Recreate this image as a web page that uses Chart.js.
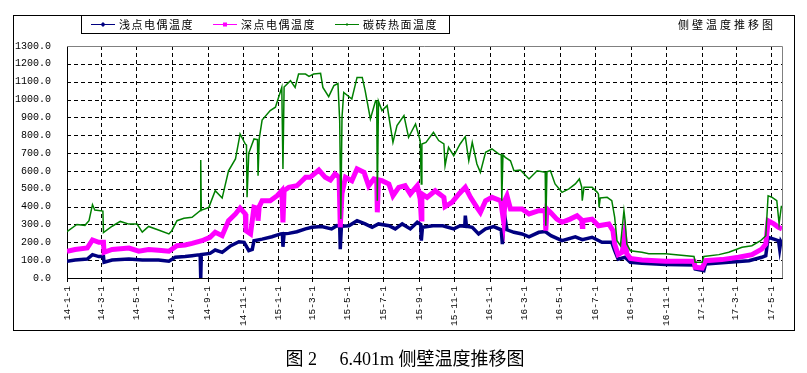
<!DOCTYPE html>
<html>
<head>
<meta charset="utf-8">
<script src="https://cdn.jsdelivr.net/npm/chart.js@4/dist/chart.umd.min.js"></script>
<style>
  html, body { margin: 0; padding: 0; background: #fff; }
  #wrap { position: absolute; left: 0; top: 0; width: 807px; height: 373px; }
  #caption { position: absolute; left: 0; top: 350px; width: 810px; text-align: center;
             font: 18px 'Liberation Serif', 'Noto Sans CJK SC', serif; line-height: 18px;
             white-space: pre; color: #000; }
</style>
</head>
<body>
<div id="wrap"><canvas id="chart"></canvas></div>
<div id="caption">图 2　 6.401m 侧壁温度推移图</div>
<script>
// 系列名称
const seriesNames = ['浅点电偶温度', '深点电偶温度', '碳砖热面温度'];
const chartTitle = '侧壁温度推移图';

// X轴刻度 (年-月-日)
const tickLabels = ['14-1-1', '14-3-1', '14-5-1', '14-7-1', '14-9-1', '14-11-1',
  '15-1-1', '15-3-1', '15-5-1', '15-7-1', '15-9-1', '15-11-1',
  '16-1-1', '16-3-1', '16-5-1', '16-7-1', '16-9-1', '16-11-1',
  '17-1-1', '17-3-1', '17-5-1'];

// 数据: 天数 (从 2014-1-1 起) 和温度
const shallowDays = [0, 14, 35, 44, 55, 63, 64, 78, 107, 130, 158, 176, 187, 204, 216, 230, 231, 232, 247, 256, 268, 283, 297, 306, 314, 320, 323, 337, 354, 369, 372, 373, 375, 383, 397, 412, 423, 440, 457, 466, 471, 472, 474, 487, 501, 515, 527, 538, 556, 567, 579, 593, 605, 611, 612, 614, 632, 649, 668, 679, 687, 688, 690, 700, 711, 723, 737, 750, 752, 754, 757, 760, 772, 786, 798, 815, 826, 836, 855, 878, 890, 907, 924, 941, 946, 952, 964, 973, 993, 1034, 1083, 1085, 1100, 1103, 1143, 1178, 1200, 1207, 1211, 1221, 1229, 1231, 1233, 1235];
const shallowTemps = [94, 101, 106, 131, 120, 120, 88, 101, 106, 101, 101, 94, 116, 120, 125, 131, 0, 131, 138, 157, 144, 181, 203, 200, 153, 160, 209, 218, 231, 247, 248, 175, 248, 250, 259, 275, 284, 288, 275, 293, 290, 162, 290, 293, 321, 303, 284, 303, 293, 275, 303, 275, 312, 300, 209, 284, 293, 293, 275, 293, 290, 349, 290, 284, 247, 275, 288, 270, 190, 270, 330, 270, 256, 247, 231, 256, 260, 237, 209, 231, 215, 228, 200, 200, 153, 106, 116, 88, 82, 75, 73, 50, 41, 78, 88, 97, 116, 125, 228, 218, 209, 162, 205, 194];

const deepDays = [0, 14, 35, 44, 55, 63, 64, 78, 107, 124, 141, 158, 176, 190, 204, 216, 233, 247, 256, 268, 279, 291, 299, 308, 309, 317, 323, 329, 330, 332, 337, 351, 363, 371, 373, 375, 383, 397, 406, 412, 420, 435, 446, 455, 463, 470, 472, 475, 481, 492, 501, 513, 521, 530, 535, 536, 538, 544, 556, 563, 573, 584, 593, 605, 610, 612, 613, 622, 636, 651, 653, 665, 677, 688, 697, 708, 714, 723, 734, 749, 754, 757, 760, 766, 786, 798, 815, 826, 827, 829, 835, 846, 855, 869, 881, 889, 890, 891, 907, 918, 936, 943, 946, 952, 959, 963, 967, 973, 993, 1034, 1083, 1085, 1097, 1103, 1131, 1160, 1183, 1200, 1207, 1211, 1221, 1229, 1235];
const deepTemps = [149, 160, 168, 213, 200, 200, 144, 160, 168, 150, 160, 155, 150, 181, 185, 194, 209, 228, 256, 237, 321, 359, 392, 359, 265, 247, 396, 390, 321, 400, 433, 433, 461, 489, 312, 490, 508, 517, 545, 564, 564, 605, 564, 549, 583, 564, 284, 474, 564, 545, 611, 592, 517, 555, 550, 368, 550, 545, 527, 461, 508, 517, 471, 517, 443, 330, 471, 452, 489, 452, 400, 424, 471, 508, 452, 396, 368, 433, 452, 433, 321, 440, 461, 387, 387, 359, 377, 377, 265, 387, 368, 330, 312, 330, 349, 325, 288, 321, 330, 293, 303, 265, 190, 131, 144, 237, 136, 110, 101, 94, 94, 60, 56, 97, 103, 116, 131, 162, 190, 321, 303, 284, 275];

const hotDays = [0, 17, 31, 38, 44, 48, 62, 63, 78, 92, 107, 121, 130, 141, 158, 176, 181, 190, 202, 216, 230, 231, 232, 245, 256, 268, 279, 291, 299, 308, 310, 311, 314, 323, 329, 330, 332, 337, 351, 360, 371, 373, 375, 386, 394, 400, 412, 418, 426, 438, 442, 452, 461, 468, 471, 473, 475, 478, 492, 501, 510, 515, 524, 533, 535, 536, 538, 544, 553, 563, 570, 582, 590, 602, 610, 612, 613, 620, 633, 642, 651, 653, 659, 668, 679, 688, 694, 700, 708, 714, 723, 734, 746, 750, 751, 753, 757, 766, 772, 783, 798, 812, 826, 827, 829, 835, 843, 855, 867, 878, 885, 889, 890, 893, 907, 916, 918, 919, 921, 933, 941, 946, 950, 956, 962, 964, 967, 973, 993, 1005, 1034, 1083, 1085, 1097, 1100, 1126, 1143, 1166, 1183, 1198, 1207, 1211, 1218, 1226, 1230, 1234];
const hotTemps = [260, 300, 295, 321, 411, 381, 375, 255, 290, 317, 302, 302, 257, 289, 269, 247, 265, 321, 335, 340, 377, 661, 380, 396, 489, 448, 601, 667, 807, 751, 745, 452, 700, 779, 775, 573, 780, 885, 938, 957, 1068, 611, 1070, 1106, 1068, 1143, 1143, 1130, 1143, 1147, 1068, 1016, 1078, 1090, 882, 330, 900, 1040, 1003, 1124, 1124, 1050, 891, 993, 990, 433, 990, 938, 966, 760, 854, 910, 788, 863, 770, 527, 751, 760, 816, 770, 751, 629, 732, 685, 751, 792, 657, 760, 639, 592, 704, 723, 694, 690, 433, 690, 676, 657, 601, 605, 555, 601, 592, 293, 595, 601, 527, 480, 499, 527, 555, 510, 433, 508, 508, 480, 470, 396, 448, 452, 433, 340, 209, 181, 377, 321, 190, 153, 144, 136, 136, 121, 88, 88, 121, 131, 144, 172, 181, 209, 237, 461, 452, 433, 303, 405];

const seriesColors = ['#000080', '#FF00FF', '#008000'];

// 日期标签 -> 天数
function labelToDay(label) {
  const [y, m, d] = label.split('-').map(Number);
  return Math.round((Date.UTC(2000 + y, m - 1, d) - Date.UTC(2014, 0, 1)) / 86400000);
}
const tickDays = tickLabels.map(labelToDay);

function toPoints(days, temps) {
  return days.map((d, i) => ({ x: d, y: temps[i] }));
}

// 虚线网格 (Excel 风格)
const gridPlugin = {
  id: 'dashGrid',
  beforeDatasetsDraw(chart) {
    const ctx = chart.ctx;
    const a = chart.chartArea;
    const xs = chart.scales.x;
    const ys = chart.scales.y;
    ctx.save();
    ctx.strokeStyle = '#000';
    ctx.lineWidth = 1;
    ctx.setLineDash([4, 3]);
    ys.ticks.forEach(t => {
      if (t.value <= ys.min || t.value >= ys.max) return;
      const y = Math.round(ys.getPixelForValue(t.value)) + 0.5;
      ctx.beginPath(); ctx.moveTo(a.left, y); ctx.lineTo(a.right, y); ctx.stroke();
    });
    xs.ticks.forEach(t => {
      if (t.value <= xs.min) return;
      const x = Math.round(xs.getPixelForValue(t.value)) + 0.5;
      ctx.beginPath(); ctx.moveTo(x, a.top); ctx.lineTo(x, a.bottom); ctx.stroke();
    });
    ctx.setLineDash([]);
    xs.ticks.forEach(t => {
      const x = Math.round(xs.getPixelForValue(t.value)) + 0.5;
      ctx.beginPath(); ctx.moveTo(x, a.bottom); ctx.lineTo(x, a.bottom + 4); ctx.stroke();
    });
    ctx.restore();
  }
};

// 边框、图例、标题
const framePlugin = {
  id: 'frame',
  afterDraw(chart) {
    const ctx = chart.ctx;
    const a = chart.chartArea;
    ctx.save();
    ctx.lineWidth = 1;
    ctx.strokeStyle = '#808080';
    ctx.beginPath();
    ctx.moveTo(a.left, Math.round(a.top) + 0.5);
    ctx.lineTo(Math.round(a.right) + 0.5, Math.round(a.top) + 0.5);
    ctx.lineTo(Math.round(a.right) + 0.5, a.bottom);
    ctx.stroke();

    ctx.strokeStyle = '#000';
    ctx.strokeRect(13.5, 15.5, 781, 315);
    ctx.strokeRect(81.5, 15.5, 368, 18);

    const lineX = [91, 213, 335];
    ctx.font = "11px 'Noto Sans CJK SC'";
    ctx.textBaseline = 'middle';
    ctx.textAlign = 'left';
    seriesNames.forEach((name, i) => {
      const x0 = lineX[i];
      const cy = 24.5;
      ctx.strokeStyle = seriesColors[i];
      ctx.fillStyle = seriesColors[i];
      ctx.beginPath();
      ctx.moveTo(x0, cy);
      ctx.lineTo(x0 + 24, cy);
      ctx.stroke();
      const mx = x0 + 12;
      if (i === 0) {
        ctx.beginPath();
        ctx.moveTo(mx, cy - 2.5); ctx.lineTo(mx + 2.5, cy); ctx.lineTo(mx, cy + 2.5); ctx.lineTo(mx - 2.5, cy);
        ctx.closePath();
        ctx.fill();
      } else if (i === 1) {
        ctx.fillRect(mx - 2, cy - 2, 4, 4);
      } else {
        ctx.beginPath();
        ctx.moveTo(mx, cy - 1.5); ctx.lineTo(mx, cy + 1.5);
        ctx.stroke();
      }
      ctx.fillStyle = '#000';
      ctx.letterSpacing = '1.5px';
      ctx.fillText(name, x0 + 28, 25);
      ctx.letterSpacing = '0px';
    });

    ctx.letterSpacing = '3px';
    ctx.fillStyle = '#000';
    ctx.fillText(chartTitle, 678, 25);
    ctx.letterSpacing = '0px';
    ctx.restore();
  }
};

const chart = new Chart(document.getElementById('chart'), {
  type: 'line',
  data: {
    datasets: [
      { label: seriesNames[0], data: toPoints(shallowDays, shallowTemps), borderColor: seriesColors[0],
        borderWidth: 3.5, pointRadius: 0, order: 3 },
      { label: seriesNames[1], data: toPoints(deepDays, deepTemps), borderColor: seriesColors[1],
        borderWidth: 5, pointRadius: 0, order: 2 },
      { label: seriesNames[2], data: toPoints(hotDays, hotTemps), borderColor: seriesColors[2],
        borderWidth: 1.5, pointRadius: 0, order: 1 }
    ]
  },
  options: {
    responsive: true,
    maintainAspectRatio: false,
    animation: false,
    layout: { padding: { left: 13, top: 46, right: 25, bottom: 43 } },
    plugins: {
      legend: { display: false },
      tooltip: { enabled: false }
    },
    scales: {
      x: {
        type: 'linear',
        min: 0,
        max: 1235,
        afterBuildTicks: (scale) => { scale.ticks = tickDays.map(v => ({ value: v })); },
        afterFit: (scale) => { scale.height = 52; },
        grid: { display: false, drawTicks: false },
        border: { display: true, color: '#000', width: 1 },
        ticks: {
          autoSkip: false,
          minRotation: 90,
          maxRotation: 90,
          padding: 8,
          color: '#000',
          font: { family: "'Liberation Mono'", size: 9.5 },
          callback: (v) => {
            const i = tickDays.indexOf(v);
            return i >= 0 ? tickLabels[i] : '';
          }
        }
      },
      y: {
        min: 0,
        max: 1300,
        afterFit: (scale) => { scale.width = 54; },
        grid: { display: false, drawTicks: false },
        border: { display: true, color: '#000', width: 1 },
        ticks: {
          stepSize: 100,
          padding: 16,
          color: '#000',
          font: { family: "'Liberation Mono'", size: 10 },
          callback: (v) => v.toFixed(1)
        }
      }
    }
  },
  plugins: [gridPlugin, framePlugin]
});
</script>
</body>
</html>
